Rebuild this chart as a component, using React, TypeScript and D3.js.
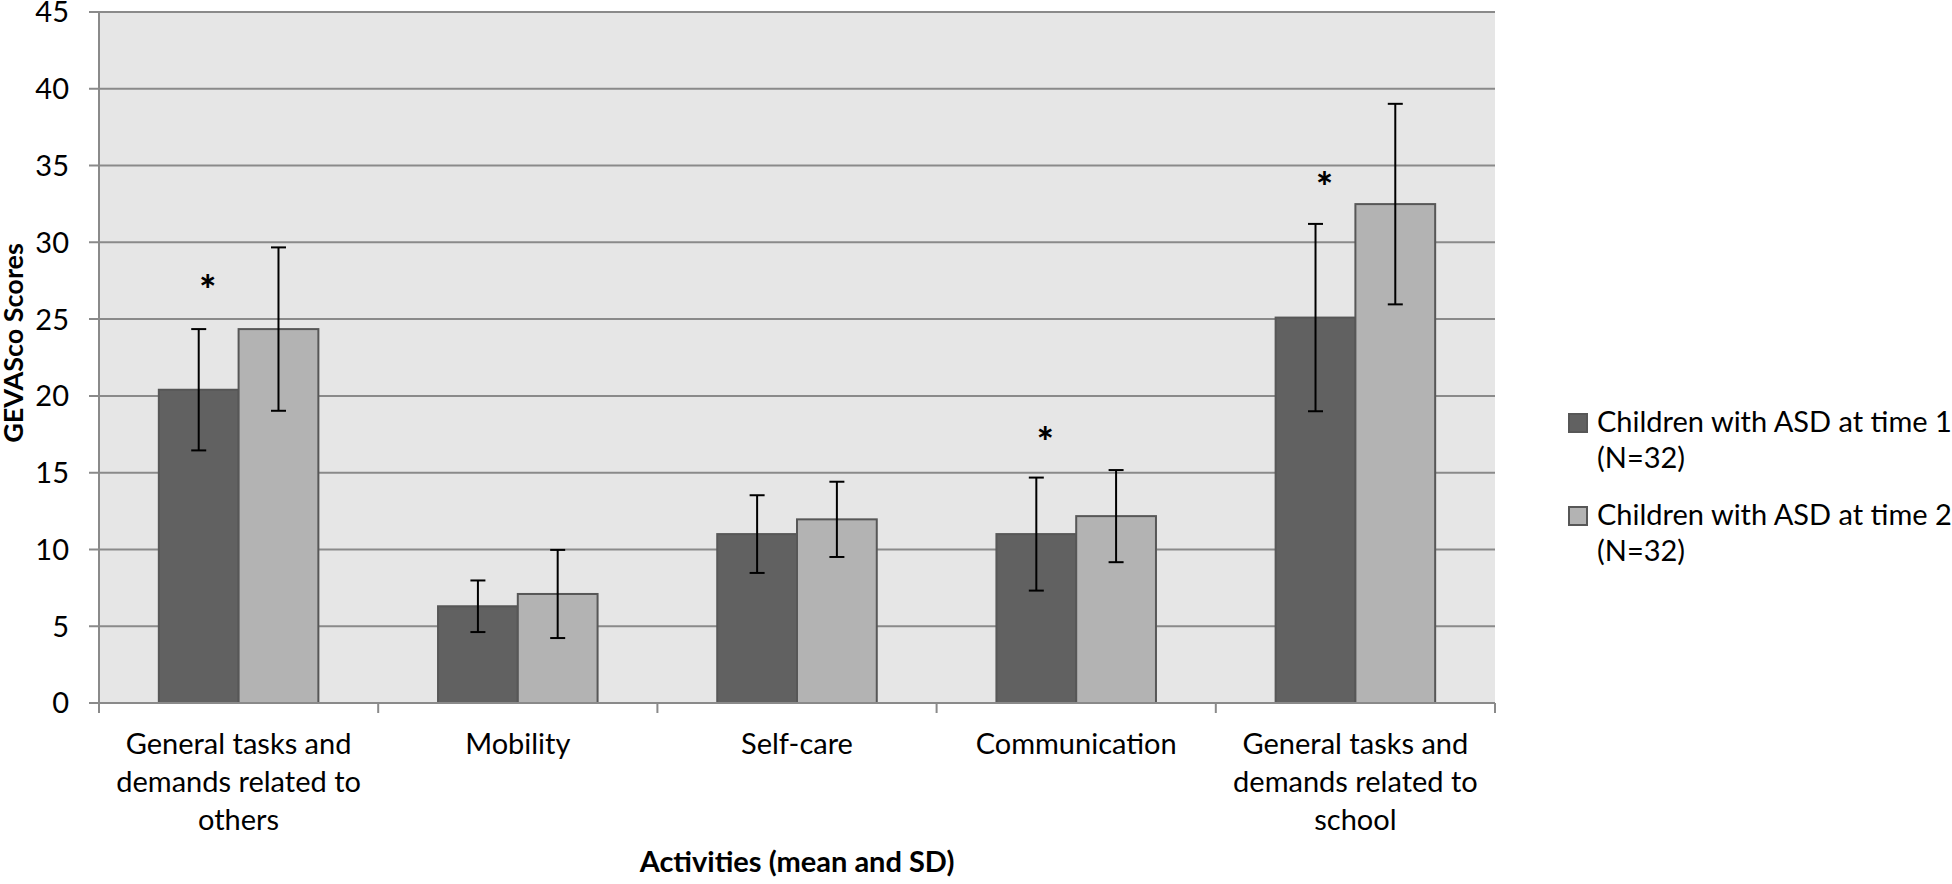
import React from "react";
import { scaleBand, scaleLinear, range } from "d3";

const categories = [
  "General tasks and demands related to others",
  "Mobility",
  "Self-care",
  "Communication",
  "General tasks and demands related to school",
];
const categoryLines = [
  ["General tasks and", "demands related to", "others"],
  ["Mobility"],
  ["Self-care"],
  ["Communication"],
  ["General tasks and", "demands related to", "school"],
];
const seriesNames = ["time1", "time2"];
const legendLines = [
  ["Children with ASD at time 1", "(N=32)"],
  ["Children with ASD at time 2", "(N=32)"],
];
const time1Mean = [20.4, 6.3, 11.0, 11.0, 25.1];
const time1SD = [3.95, 1.68, 2.53, 3.68, 6.1];
const time2Mean = [24.35, 7.1, 11.96, 12.17, 32.49];
const time2SD = [5.32, 2.87, 2.45, 3.0, 6.53];
// y value of the "*" marks (null = none)
const starValues = [27.45, null, null, 17.56, 34.16];
const yTicks = range(0, 50, 5);

const FONT = "Lato, 'Open Sans', sans-serif";
const fills = ["#616161", "#b3b3b3"];

export default function App() {
  const W = 1952, H = 884;
  const left = 99, right = 1495, top = 12, bottom = 703;

  const y = scaleLinear().domain([0, 45]).range([bottom, top]);
  const x0 = scaleBand<string>().domain(categories).range([left, right]).padding(0);
  const x1 = scaleBand<string>()
    .domain(seriesNames)
    .range([0, x0.bandwidth()])
    .paddingInner(0)
    .paddingOuter(0.75);

  const means = [time1Mean, time2Mean];
  const sds = [time1SD, time2SD];

  return (
    <svg width={W} height={H} style={{ position: "absolute", left: 0, top: 0, display: "block" }}
      fontFamily={FONT}>
      <rect x={0} y={0} width={W} height={H} fill="#fff" />
      <rect x={left} y={top} width={right - left} height={bottom - top} fill="#e6e6e6" />

      {/* gridlines */}
      {yTicks.map((t) => (
        <line key={t} x1={left - 10} x2={right} y1={y(t)} y2={y(t)} stroke="#8a8a8a" strokeWidth={2} />
      ))}
      {yTicks.map((t) => (
        <text key={"l" + t} x={69} y={y(t)} dy="0.36em" textAnchor="end" fontSize={29} fill="#000">
          {t}
        </text>
      ))}

      {/* bars */}
      {categories.map((c, i) => (
        <g key={c} transform={`translate(${x0(c)},0)`}>
          {seriesNames.map((s, j) => (
            <rect key={s} x={x1(s)} y={y(means[j][i])} width={x1.bandwidth()}
              height={y(0) - y(means[j][i])} fill={fills[j]} stroke="#575757" strokeWidth={2} />
          ))}
        </g>
      ))}

      {/* axes */}
      <line x1={left} x2={left} y1={top} y2={bottom} stroke="#8a8a8a" strokeWidth={2} />
      <line x1={left - 10} x2={right} y1={bottom} y2={bottom} stroke="#8a8a8a" strokeWidth={2} />
      {range(categories.length + 1).map((k) => {
        const xx = left + k * x0.step();
        return <line key={"t" + k} x1={xx} x2={xx} y1={bottom} y2={bottom + 10} stroke="#8a8a8a" strokeWidth={2} />;
      })}

      {/* error bars */}
      {categories.map((c, i) => (
        <g key={"e" + c} transform={`translate(${x0(c)},0)`}>
          {seriesNames.map((s, j) => {
            const cx = (x1(s) as number) + x1.bandwidth() / 2;
            const hi = y(means[j][i] + sds[j][i]);
            const lo = y(means[j][i] - sds[j][i]);
            return (
              <g key={s} stroke="#000" strokeWidth={2}>
                <line x1={cx} x2={cx} y1={hi} y2={lo} />
                <line x1={cx - 7.5} x2={cx + 7.5} y1={hi} y2={hi} />
                <line x1={cx - 7.5} x2={cx + 7.5} y1={lo} y2={lo} />
              </g>
            );
          })}
        </g>
      ))}

      {/* significance marks */}
      {categories.map((c, i) =>
        starValues[i] == null ? null : (
          <text key={"s" + c} x={(x0(c) as number) + (x1("time1") as number) + x1.bandwidth() / 2 + 9}
            y={y(starValues[i] as number)} dy="0.6em" textAnchor="middle" fontSize={40} fontWeight="900">
            *
          </text>
        )
      )}

      {/* category labels */}
      {categories.map((c, i) => (
        <text key={"c" + c} x={(x0(c) as number) + x0.bandwidth() / 2} textAnchor="middle" fontSize={29}>
          {categoryLines[i].map((ln, k) => (
            <tspan key={k} x={(x0(c) as number) + x0.bandwidth() / 2} y={754 + k * 38}>{ln}</tspan>
          ))}
        </text>
      ))}

      <text x={(left + right) / 2} y={872} textAnchor="middle" fontSize={29} fontWeight="bold">
        Activities (mean and SD)
      </text>
      <text transform={`translate(23,${343}) rotate(-90)`} textAnchor="middle" fontSize={27} fontWeight="bold">
        GEVASco Scores
      </text>

      {/* legend */}
      {legendLines.map((lines, j) => (
        <g key={"lg" + j} transform={`translate(1569,${414 + j * 93})`}>
          <rect x={0} y={0} width={18} height={18} fill={fills[j]} stroke="#575757" strokeWidth={2} />
          <text fontSize={29}>
            {lines.map((ln, k) => (
              <tspan key={k} x={28} y={18 + k * 36}>{ln}</tspan>
            ))}
          </text>
        </g>
      ))}
    </svg>
  );
}
